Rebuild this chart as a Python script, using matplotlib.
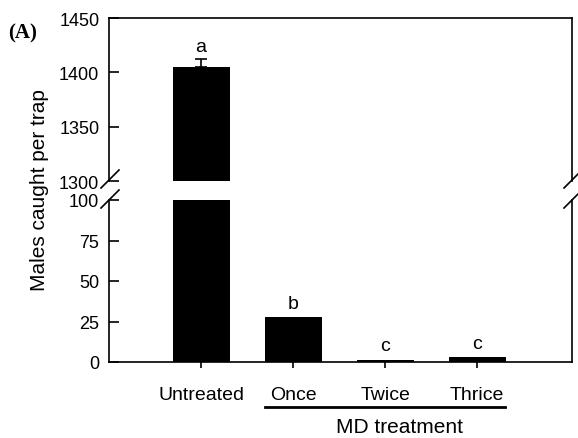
import numpy as np
import matplotlib
matplotlib.use("Agg")
import matplotlib.pyplot as plt

plt.rcParams['font.family'] = ['Liberation Sans', 'DejaVu Sans']

# data
treatments = ["Untreated", "Once", "Twice", "Thrice"]
males_per_trap = [1405, 27.5, 1.2, 2.8]
err_upper = [7, 0, 0, 0]
letters = ["a", "b", "c", "c"]

W, H = 578, 439
fig = plt.figure(figsize=(W / 100, H / 100), dpi=100)

def px_axes(left, top, right, bottom):
    # axes placed in pixel coords of the reference picture
    return fig.add_axes([left / W, 1 - bottom / H, (right - left) / W, (bottom - top) / H])

ax_top = px_axes(109, 19, 572, 182)
ax_bot = px_axes(109, 201, 572, 363)

x = np.arange(len(treatments))
bw = 0.62
for ax in (ax_top, ax_bot):
    ax.bar(x, males_per_trap, width=bw, color="black", zorder=2)
    ax.set_xlim(-1.0, 4.03)

ax_top.errorbar(x[:1], males_per_trap[:1], yerr=[[0], [err_upper[0]]],
                fmt="none", ecolor="black", elinewidth=1.2, capsize=4, capthick=1.2, zorder=3)

ax_top.set_ylim(1300, 1450)
ax_top.set_yticks([1300, 1350, 1400, 1450])
ax_bot.set_ylim(0, 100)
ax_bot.set_yticks([0, 25, 50, 75, 100])

ax_top.spines["bottom"].set_visible(False)
ax_bot.spines["top"].set_visible(False)
for ax in (ax_top, ax_bot):
    for s in ax.spines.values():
        s.set_linewidth(1.2)
    ax.tick_params(axis="y", direction="in", length=7, width=1.2, labelsize=13, pad=7)

ax_top.tick_params(axis="x", bottom=False, labelbottom=False)
ax_bot.set_xticks(x)
ax_bot.set_xticklabels(treatments, fontsize=14)
ax_bot.tick_params(axis="x", direction="out", length=4.5, width=1.2, pad=13)

# letters above the bars
ax_top.text(x[0], 1416, letters[0], ha="center", va="bottom", fontsize=14)
for i in range(1, 4):
    ax_bot.text(x[i], males_per_trap[i] + 3.5, letters[i], ha="center", va="bottom", fontsize=14)

# break marks on both spines
for xp in (109, 572):
    for yp in (181, 201):
        fig.add_artist(plt.Line2D([(xp - 8) / W, (xp + 10) / W],
                                  [1 - (yp + 8) / H, 1 - (yp - 10) / H],
                                  color="black", lw=1.2))

fig.text(40 / W, 1 - 190 / H, "Males caught per trap", rotation=90,
         ha="center", va="center", fontsize=15)
fig.text(8 / W, 1 - 33 / H, "(A)", fontsize=15, fontweight="bold",
         family=["Liberation Serif", "DejaVu Serif"], ha="left", va="center")

fig.add_artist(plt.Line2D([265 / W, 505 / W], [1 - 408 / H, 1 - 408 / H], color="black", lw=2))
fig.text(400 / W, 1 - 428 / H, "MD treatment", ha="center", va="center", fontsize=15)

fig.savefig("out.png", dpi=100)
